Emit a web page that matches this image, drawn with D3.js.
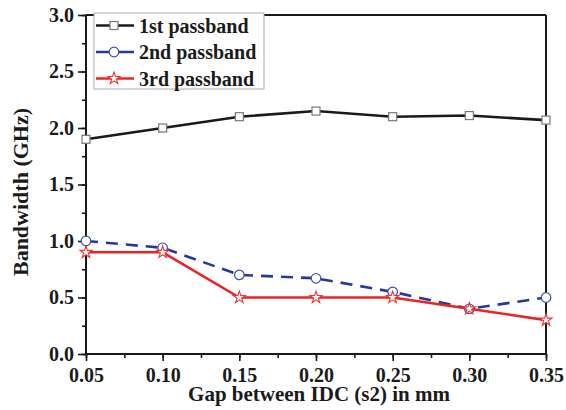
<!DOCTYPE html>
<html>
<head>
<meta charset="utf-8">
<script src="https://cdn.jsdelivr.net/npm/d3@7"></script>
<style>
  body { margin: 0; background: #fff; }
</style>
</head>
<body>
<div id="chart"></div>
<script>
const gaps = [0.05, 0.10, 0.15, 0.20, 0.25, 0.30, 0.35];
const first = [1.90, 2.00, 2.10, 2.15, 2.10, 2.11, 2.07];
const second = [1.00, 0.94, 0.70, 0.67, 0.55, 0.40, 0.50];
const third = [0.90, 0.90, 0.50, 0.50, 0.50, 0.40, 0.30];
const xTicks = [0.05, 0.10, 0.15, 0.20, 0.25, 0.30, 0.35];
const yTicks = [0.0, 0.5, 1.0, 1.5, 2.0, 2.5, 3.0];
const seriesNames = ['1st passband', '2nd passband', '3rd passband'];

const FONT = 'Liberation Serif';
const width = 566, height = 410;
const margin = { top: 15, right: 20, bottom: 56, left: 86 };
const innerWidth = width - margin.left - margin.right;
const innerHeight = height - margin.top - margin.bottom;

const svg = d3.select('#chart').append('svg')
  .attr('width', width).attr('height', height);
const g = svg.append('g').attr('transform', `translate(${margin.left},${margin.top})`);

const x = d3.scaleLinear().domain([0.05, 0.35]).range([0, innerWidth]);
const y = d3.scaleLinear().domain([0, 3]).range([innerHeight, 0]);

const series = [
  { name: seriesNames[0], values: first, color: '#1a1a1a', dash: null, marker: 'square', mcolor: '#777' },
  { name: seriesNames[1], values: second, color: '#233a9c', dash: '12,8', marker: 'circle', mcolor: '#3a50b0' },
  { name: seriesNames[2], values: third, color: '#ee2222', dash: null, marker: 'star', mcolor: '#ee3333' }
];

const line = d3.line().x(d => x(d[0])).y(d => y(d[1]));

function marker(sel, type, color) {
  if (type === 'square') {
    sel.append('rect').attr('x', -4).attr('y', -4).attr('width', 8).attr('height', 8)
      .attr('fill', '#fff').attr('stroke', color).attr('stroke-width', 1.2);
  } else if (type === 'circle') {
    sel.append('circle').attr('r', 4.8).attr('fill', '#fff').attr('stroke', color).attr('stroke-width', 1.2);
  } else {
    sel.append('path').attr('d', d3.symbol(d3.symbolStar, 45)())
      .attr('fill', '#fff').attr('stroke', color).attr('stroke-width', 1.1);
  }
}

function label(sel, size) {
  return sel.attr('font-family', FONT).attr('font-weight', 'bold')
    .attr('font-size', size).attr('fill', '#1a1a1a');
}

// frame: top and right
g.append('line').attr('x1', 0).attr('x2', innerWidth).attr('y1', 0).attr('y2', 0)
  .attr('stroke', '#1a1a1a').attr('stroke-width', 2);
g.append('line').attr('x1', innerWidth).attr('x2', innerWidth).attr('y1', 0).attr('y2', innerHeight)
  .attr('stroke', '#1a1a1a').attr('stroke-width', 2);

// x axis, ticks pointing outward
const xMinor = d3.range(0, 13).map(i => 0.05 + i * 0.025);
const xm = g.append('g').attr('transform', `translate(0,${innerHeight})`)
  .call(d3.axisBottom(x).tickValues(xMinor).tickSize(4).tickFormat(''));
xm.select('.domain').remove();
xm.selectAll('text').remove();
xm.selectAll('line').attr('stroke', '#1a1a1a').attr('stroke-width', 1.6);
const xAxis = g.append('g').attr('transform', `translate(0,${innerHeight})`)
  .call(d3.axisBottom(x).tickValues(xTicks).tickSize(7).tickFormat(d3.format('.2f')));
xAxis.select('.domain').remove();
xAxis.selectAll('line').attr('stroke', '#1a1a1a').attr('stroke-width', 1.6);
label(xAxis.selectAll('text'), 20).attr('y', 28).attr('dy', 0);
g.append('line').attr('x1', 0).attr('x2', innerWidth).attr('y1', innerHeight).attr('y2', innerHeight)
  .attr('stroke', '#1a1a1a').attr('stroke-width', 2);

// y axis, ticks pointing outward
const yMinor = d3.range(0, 13).map(i => i * 0.25);
const ym = g.append('g')
  .call(d3.axisLeft(y).tickValues(yMinor).tickSize(4).tickFormat(''));
ym.select('.domain').remove();
ym.selectAll('text').remove();
ym.selectAll('line').attr('stroke', '#1a1a1a').attr('stroke-width', 1.6);
const yAxis = g.append('g')
  .call(d3.axisLeft(y).tickValues(yTicks).tickSize(8).tickFormat(d3.format('.1f')));
yAxis.select('.domain').remove();
yAxis.selectAll('line').attr('stroke', '#1a1a1a').attr('stroke-width', 1.6);
label(yAxis.selectAll('text'), 20).attr('x', -12);
g.append('line').attr('x1', 0).attr('x2', 0).attr('y1', 0).attr('y2', innerHeight)
  .attr('stroke', '#1a1a1a').attr('stroke-width', 2);

// lines and markers
series.forEach(s => {
  const pts = gaps.map((gx, i) => [gx, s.values[i]]);
  g.append('path').datum(pts).attr('d', line)
    .attr('fill', 'none').attr('stroke', s.color).attr('stroke-width', 2.6)
    .attr('stroke-dasharray', s.dash);
  g.selectAll(null).data(pts).enter().append('g')
    .attr('transform', d => `translate(${x(d[0])},${y(d[1])})`)
    .each(function() { marker(d3.select(this), s.marker, s.mcolor); });
});

// axis titles
label(svg.append('text'), 21).attr('x', 319).attr('y', 401)
  .attr('text-anchor', 'middle').text('Gap between IDC (s2) in mm');
label(svg.append('text'), 22)
  .attr('transform', 'translate(28,192) rotate(-90)')
  .attr('text-anchor', 'middle').text('Bandwidth (GHz)');

// legend
const legend = svg.append('g').attr('transform', 'translate(94,13)');
legend.append('rect').attr('width', 170).attr('height', 76)
  .attr('fill', '#fff').attr('stroke', '#aaa').attr('stroke-width', 1);
series.forEach((s, i) => {
  const row = legend.append('g').attr('transform', `translate(0,${12.5 + i * 26.5})`);
  row.append('line').attr('x1', 2).attr('x2', 40).attr('y1', 0).attr('y2', 0)
    .attr('stroke', s.color).attr('stroke-width', 2.6);
  const m = row.append('g').attr('transform', 'translate(20,0)');
  marker(m, s.marker, s.mcolor);
  label(row.append('text'), 20).attr('x', 45).attr('y', 0).attr('dy', '0.35em').text(s.name);
});
</script>
</body>
</html>
